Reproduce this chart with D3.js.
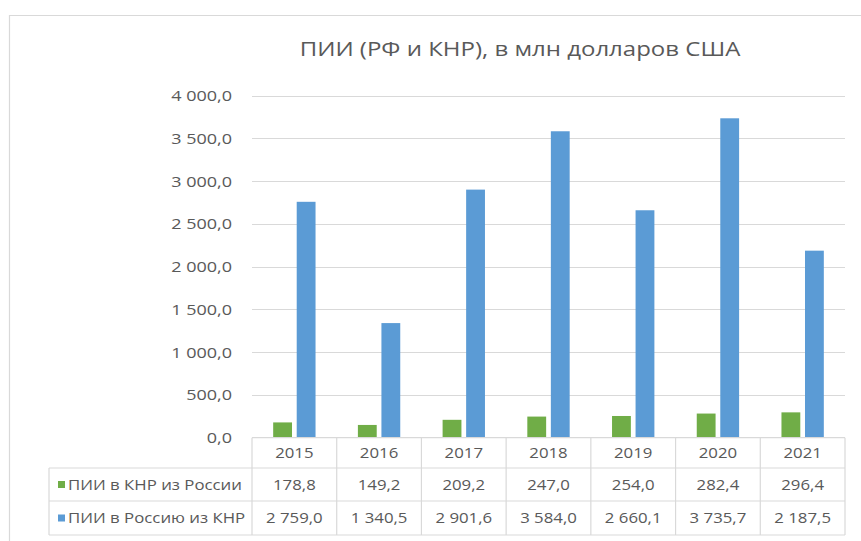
<!DOCTYPE html>
<html>
<head>
<meta charset="utf-8">
<script src="https://cdn.jsdelivr.net/npm/d3@7"></script>
<style>
  body { margin: 0; background: #fff; }
  svg { display: block; font-family: "Open Sans", "Noto Sans", sans-serif; }
</style>
</head>
<body>
<svg width="861" height="541"></svg>
<script>
const years = ["2015", "2016", "2017", "2018", "2019", "2020", "2021"];
const seriesNames = ["ПИИ в КНР из России", "ПИИ в Россию из КНР"];
const chinaFromRussia = [178.8, 149.2, 209.2, 247.0, 254.0, 282.4, 296.4];
const russiaFromChina = [2759.0, 1340.5, 2901.6, 3584.0, 2660.1, 3735.7, 2187.5];
const yTicks = [0, 500, 1000, 1500, 2000, 2500, 3000, 3500, 4000];
const colors = ["#70ad47", "#5b9bd5"];

const seriesValues = [chinaFromRussia, russiaFromChina];

const svg = d3.select("svg");
const textColor = "#595959";
const lineColor = "#d9d9d9";
const SX = 1.2; // the picture is a little wider than it is tall

const plot = { left: 252, right: 845, top: 95.7, bottom: 437.7 };
const rowH = [30.3, 33, 34];   // header, row 1, row 2
const tableLeft = 49;

const at = (x, y) => `translate(${x},${y}) scale(${SX},1)`;

// chart frame (only left and top edges are in view)
svg.append("path")
    .attr("d", "M9.5,541 V15.5 H861")
    .attr("fill", "none")
    .attr("stroke", lineColor)
    .attr("stroke-width", 1.2);

svg.append("text")
    .attr("transform", at(520, 56))
    .attr("text-anchor", "middle")
    .attr("fill", textColor)
    .style("font-size", "20px")
    .text("ПИИ (РФ и КНР), в млн долларов США");

const x0 = d3.scaleBand().domain(years).range([plot.left, plot.right]);
const x1 = d3.scaleBand().domain(seriesNames)
    .range([x0.bandwidth() * 0.25, x0.bandwidth() * 0.75])
    .paddingInner(0.2);
const y = d3.scaleLinear().domain([0, 4000]).range([plot.bottom, plot.top]);

const fmtNum = v => {
    const s = d3.format(",.1f")(v);
    return s.replace(/,/g, "\u00a0").replace(".", ",");
};

// gridlines
svg.append("g")
    .selectAll("line")
    .data(yTicks.filter(d => d > 0))
    .join("line")
    .attr("x1", plot.left)
    .attr("x2", plot.right)
    .attr("y1", d => Math.round(y(d)) + 0.5)
    .attr("y2", d => Math.round(y(d)) + 0.5)
    .attr("stroke", lineColor)
    .attr("stroke-width", 1);

// y axis labels
const yAxis = d3.axisLeft(y).tickValues(yTicks).tickFormat(fmtNum).tickSize(0).tickPadding(0);
const yg = svg.append("g")
    .attr("transform", `translate(232,0)`)
    .call(yAxis);
yg.select(".domain").remove();
yg.selectAll("text")
    .attr("transform", `scale(${SX},1)`)
    .attr("fill", textColor)
    .style("font-size", "15px")
    .style("font-family", "\"Open Sans\", sans-serif");

// bars
const groups = svg.append("g")
    .selectAll("g")
    .data(years)
    .join("g")
    .attr("transform", d => `translate(${x0(d)},0)`);

groups.selectAll("rect")
    .data((d, i) => seriesNames.map((s, k) => ({ s, k, v: seriesValues[k][i] })))
    .join("rect")
    .attr("x", d => x1(d.s))
    .attr("width", x1.bandwidth())
    .attr("y", d => y(d.v))
    .attr("height", d => y(0) - y(d.v))
    .attr("fill", d => colors[d.k]);

// data table
const tbl = svg.append("g");
const yHeadTop = plot.bottom;
const yRow1 = yHeadTop + rowH[0];
const yRow2 = yRow1 + rowH[1];
const yBottom = yRow2 + rowH[2];

const hLines = [
    [plot.left, plot.right, yHeadTop],
    [tableLeft, plot.right, yRow1],
    [tableLeft, plot.right, yRow2],
    [tableLeft, plot.right, yBottom]
];
tbl.selectAll("line.h")
    .data(hLines)
    .join("line")
    .attr("class", "h")
    .attr("x1", d => d[0]).attr("x2", d => d[1])
    .attr("y1", d => d[2]).attr("y2", d => d[2])
    .attr("stroke", lineColor).attr("stroke-width", 1.2);

const vLines = [[tableLeft, yRow1]].concat(
    years.map(d => [x0(d), yHeadTop]),
    [[plot.right, yHeadTop]]
);
tbl.selectAll("line.v")
    .data(vLines)
    .join("line")
    .attr("class", "v")
    .attr("x1", d => d[0]).attr("x2", d => d[0])
    .attr("y1", d => d[1]).attr("y2", yBottom)
    .attr("stroke", lineColor).attr("stroke-width", 1.2);

const cellSize = "14px";

tbl.selectAll("text.year")
    .data(years)
    .join("text")
    .attr("class", "year")
    .attr("transform", d => at(x0(d) + x0.bandwidth() / 2, yHeadTop + rowH[0] / 2 + 5))
    .attr("text-anchor", "middle")
    .attr("fill", textColor)
    .style("font-size", cellSize)
    .text(d => d);

const rowTops = [yRow1, yRow2];
seriesNames.forEach((name, k) => {
    const cy = rowTops[k] + rowH[k + 1] / 2;
    tbl.append("rect")
        .attr("x", 58)
        .attr("y", cy - 3.5)
        .attr("width", 7)
        .attr("height", 7)
        .attr("fill", colors[k]);
    tbl.append("text")
        .attr("transform", at(68, cy + 5))
        .attr("fill", textColor)
        .style("font-size", cellSize)
        .text(name);
    tbl.append("g").selectAll("text")
        .data(seriesValues[k])
        .join("text")
        .attr("transform", (d, i) => at(x0(years[i]) + x0.bandwidth() / 2, cy + 5))
        .attr("text-anchor", "middle")
        .attr("fill", textColor)
        .style("font-size", cellSize)
        .text(d => fmtNum(d));
});
</script>
</body>
</html>
